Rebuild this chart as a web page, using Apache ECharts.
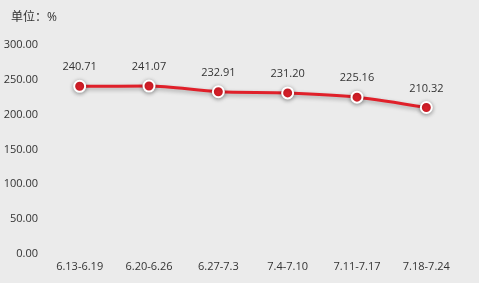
<!DOCTYPE html>
<html>
<head>
<meta charset="utf-8">
<script src="https://cdn.jsdelivr.net/npm/echarts@6/dist/echarts.min.js"></script>
<style>
  html, body { margin: 0; padding: 0; background: #fff; }
  #chart { width: 479px; height: 283px; }
</style>
</head>
<body>
<div id="chart"></div>
<script>
const weeks = ["6.13-6.19", "6.20-6.26", "6.27-7.3", "7.4-7.10", "7.11-7.17", "7.18-7.24"];
const rates = [240.71, 241.07, 232.91, 231.20, 225.16, 210.32];

const chart = echarts.init(document.getElementById("chart"));
chart.setOption({
  backgroundColor: "#ebebeb",
  textStyle: { fontFamily: "Open Sans, Noto Sans CJK SC, sans-serif" },
  title: {
    text: "单位：%",
    left: 6,
    top: 7,
    textStyle: { fontSize: 12, fontWeight: "normal", color: "#333" }
  },
  grid: { left: 45, right: 18, top: 45, bottom: 29 },
  xAxis: {
    type: "category",
    data: weeks,
    axisLine: { show: false },
    axisTick: { show: false },
    axisLabel: { color: "#333", fontSize: 11, margin: 7 }
  },
  yAxis: {
    type: "value",
    min: 0,
    max: 300,
    interval: 50,
    splitLine: { show: false },
    axisLine: { show: false },
    axisTick: { show: false },
    axisLabel: {
      color: "#333",
      fontSize: 11,
      margin: 7,
      formatter: v => v.toFixed(2)
    }
  },
  series: [{
    type: "line",
    data: rates,
    smooth: 0.3,
    symbol: "circle",
    symbolSize: 11,
    itemStyle: {
      color: "#e0202a",
      borderColor: "#fff",
      borderWidth: 2,
      shadowColor: "rgba(0,0,0,0.35)",
      shadowBlur: 4,
      shadowOffsetY: 1
    },
    lineStyle: {
      color: "#e0202a",
      width: 3,
      shadowColor: "rgba(0,0,0,0.3)",
      shadowBlur: 4,
      shadowOffsetY: 2
    },
    label: {
      show: true,
      position: "top",
      distance: 7,
      color: "#333",
      fontSize: 11,
      formatter: p => p.value.toFixed(2)
    }
  }]
});
</script>
</body>
</html>
